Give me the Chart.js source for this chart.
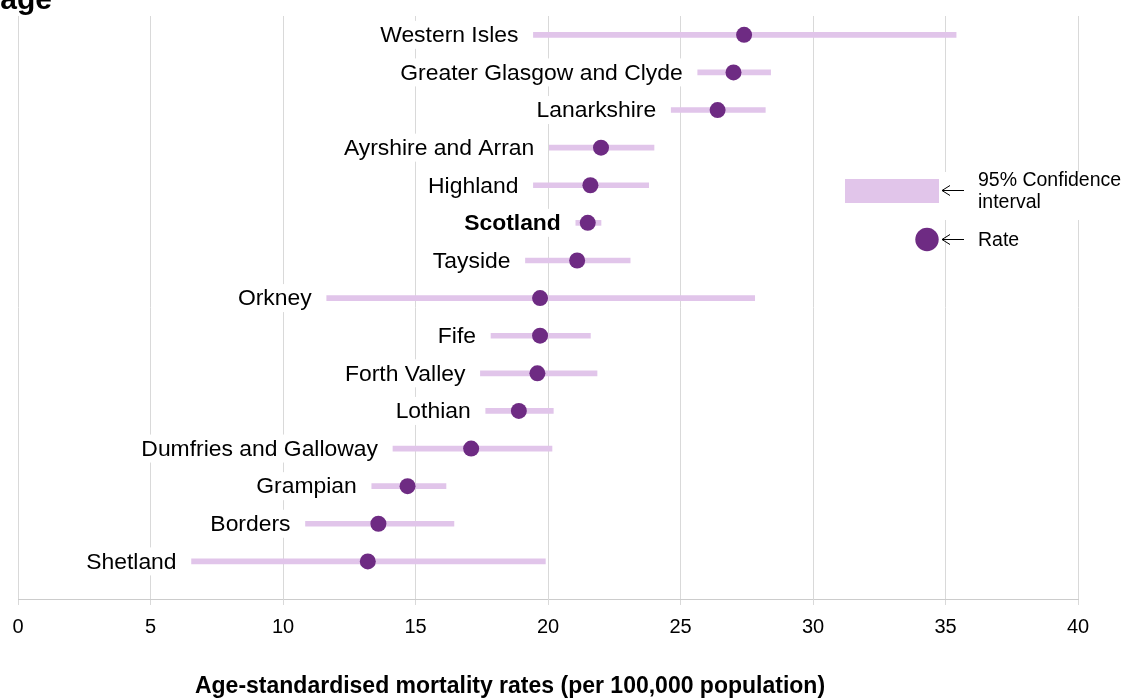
<!DOCTYPE html>
<html>
<head>
<meta charset="utf-8">
<script src="https://cdn.jsdelivr.net/npm/chart.js@4/dist/chart.umd.min.js"></script>
<style>
  html, body { margin: 0; padding: 0; background: #ffffff; }
  #wrap { position: relative; width: 1126px; height: 698px; }
</style>
</head>
<body>
<div id="wrap"><canvas id="c" width="1126" height="698"></canvas></div>
<script>
// ---- Data ----
const boards = ["Western Isles", "Greater Glasgow and Clyde", "Lanarkshire", "Ayrshire and Arran", "Highland", "Scotland", "Tayside", "Orkney", "Fife", "Forth Valley", "Lothian", "Dumfries and Galloway", "Grampian", "Borders", "Shetland"];
const rates   = [27.4, 27.0, 26.4, 22.0, 21.6, 21.5, 21.1, 19.7, 19.7, 19.6, 18.9, 17.1, 14.7, 13.6, 13.2];
const ciLower = [19.45, 25.65, 24.65, 20.05, 19.45, 21.05, 19.15, 11.65, 17.85, 17.45, 17.65, 14.15, 13.35, 10.85, 6.55];
const ciUpper = [35.4, 28.4, 28.2, 24.0, 23.8, 22.0, 23.1, 27.8, 21.6, 21.85, 20.2, 20.15, 16.15, 16.45, 19.9];
const xTicks  = [0, 5, 10, 15, 20, 25, 30, 35, 40];
const boldLabel = "Scotland";
const xAxisTitle = "Age-standardised mortality rates (per 100,000 population)";
const titleFragment = "age";
const legendCI = ["95% Confidence", "interval"];
const legendRate = "Rate";

const FONT = "'Liberation Sans', Arial, Helvetica, sans-serif";
const CI_COLOR = "#e1c5ea";
const DOT_COLOR = "#6e2b83";

const ciData = boards.map((b, i) => ({ x: [ciLower[i], ciUpper[i]], y: i }));
const dotData = boards.map((b, i) => ({ x: rates[i], y: i }));

const decorPlugin = {
  id: 'decor',
  beforeDatasetsDraw(chart) {
    const ctx = chart.ctx;
    const xs = chart.scales.x, ys = chart.scales.y;
    ctx.save();
    ctx.textBaseline = 'middle';
    ctx.textAlign = 'right';
    boards.forEach((b, i) => {
      const bold = b === boldLabel;
      ctx.font = (bold ? 'bold ' : '') + '22.9px ' + FONT;
      const xr = xs.getPixelForValue(ciLower[i]) - 15;
      const yc = ys.getPixelForValue(i);
      const w = ctx.measureText(b).width;
      ctx.fillStyle = '#ffffff';
      ctx.fillRect(xr - w - 4, yc - 14, w + 8, 28);
      ctx.fillStyle = '#000000';
      ctx.fillText(b, xr, yc + 1);
    });
    // legend white box
    const ca = chart.chartArea;
    ctx.fillStyle = '#ffffff';
    ctx.fillRect(ca.right - 137, 172, 1126 - (ca.right - 137), 48);
    ctx.restore();
  },
  afterDatasetsDraw(chart) {
    const ctx = chart.ctx;
    const ca = chart.chartArea;
    ctx.save();
    // legend CI swatch
    const rx = ca.right - 233;
    ctx.fillStyle = CI_COLOR;
    ctx.fillRect(rx, 179, 94, 24);
    // legend dot
    ctx.fillStyle = DOT_COLOR;
    ctx.beginPath();
    ctx.arc(ca.right - 151, 239.5, 11.7, 0, Math.PI * 2);
    ctx.fill();
    // arrows
    function arrow(x0, x1, y) {
      ctx.strokeStyle = '#000';
      ctx.lineWidth = 1;
      ctx.beginPath();
      ctx.moveTo(x1, y); ctx.lineTo(x0, y);
      ctx.moveTo(x0 + 8, y - 5); ctx.lineTo(x0, y); ctx.lineTo(x0 + 8, y + 5);
      ctx.stroke();
    }
    arrow(ca.right - 136, ca.right - 114, 190.5);
    arrow(ca.right - 136, ca.right - 114, 239.5);
    ctx.fillStyle = '#000';
    ctx.font = '19.5px ' + FONT;
    ctx.textAlign = 'left';
    ctx.textBaseline = 'middle';
    ctx.fillText(legendCI[0], ca.right - 100, 180.5);
    ctx.fillText(legendCI[1], ca.right - 100, 202.5);
    ctx.fillText(legendRate, ca.right - 100, 240.5);
    // axis title
    ctx.font = 'bold 23px ' + FONT;
    ctx.textAlign = 'center';
    ctx.fillText(xAxisTitle, 510, 687);
    // title fragment (cut off at top)
    ctx.font = 'bold 30px ' + FONT;
    ctx.textAlign = 'right';
    ctx.textBaseline = 'alphabetic';
    ctx.fillText(titleFragment, 52, 8.5);
    ctx.restore();
  }
};

new Chart(document.getElementById('c'), {
  data: {
    datasets: [
      {
        type: 'bar',
        indexAxis: 'y',
        data: ciData,
        backgroundColor: CI_COLOR,
        borderWidth: 0,
        barThickness: 5,
        xAxisID: 'x', yAxisID: 'y',
        order: 2
      },
      {
        type: 'scatter',
        data: dotData,
        backgroundColor: DOT_COLOR,
        borderWidth: 0,
        pointRadius: 8,
        pointHoverRadius: 8,
        xAxisID: 'x', yAxisID: 'y',
        order: 1
      }
    ]
  },
  options: {
    responsive: false,
    animation: false,
    events: [],
    layout: { padding: { left: 18, right: 48, top: 16, bottom: 0 } },
    plugins: { legend: { display: false }, tooltip: { enabled: false }, title: { display: false } },
    scales: {
      x: {
        type: 'linear',
        position: 'bottom',
        min: 0, max: 40,
        offset: false,
        afterBuildTicks(scale) { scale.ticks = xTicks.map(v => ({ value: v })); },
        afterFit(scale) { scale.height = 99; },
        ticks: { color: '#000', font: { family: FONT, size: 20 }, padding: 10, maxRotation: 0 },
        grid: { color: '#d9d9d9', lineWidth: 1, tickLength: 6, drawTicks: true, offset: false },
        border: { color: '#cccccc', width: 1 }
      },
      y: {
        type: 'linear',
        min: -0.5, max: 15,
        reverse: true,
        offset: false,
        display: false,
        grid: { offset: false }
      }
    }
  },
  plugins: [decorPlugin]
});
</script>
</body>
</html>
